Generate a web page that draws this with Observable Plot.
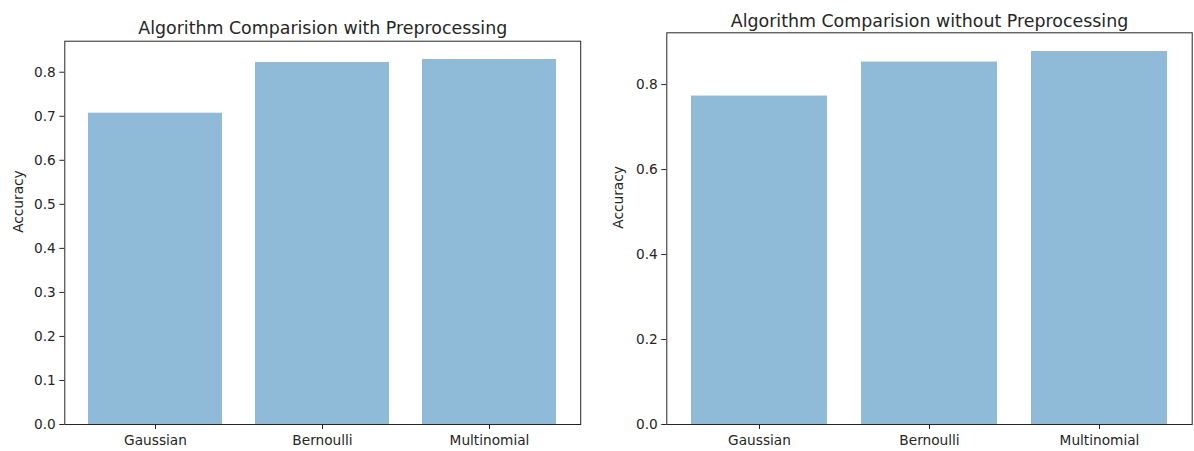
<!DOCTYPE html>
<html>
<head>
<meta charset="utf-8">
<script src="https://cdn.jsdelivr.net/npm/d3@7"></script>
<script src="https://cdn.jsdelivr.net/npm/@observablehq/plot@0.6"></script>
<style>
  html, body { margin: 0; padding: 0; background: #fff; }
  #wrap { position: relative; width: 1194px; height: 451px; overflow: hidden; }
  #wrap > div { position: absolute; top: 0; }
  svg { font-family: "DejaVu Sans", sans-serif; overflow: visible; }
</style>
</head>
<body>
<div id="wrap">
  <div id="left" style="left:0"></div>
  <div id="right" style="left:600px"></div>
</div>
<script>
// Naive Bayes variants and their test accuracy
const algorithms = ["Gaussian", "Bernoulli", "Multinomial"];
const accuracyWith = [0.707, 0.822, 0.829];
const accuracyWithout = [0.773, 0.853, 0.878];

const titles = [
  "Algorithm Comparision with Preprocessing",
  "Algorithm Comparision without Preprocessing"
];
const yTicksWith = [0, 0.1, 0.2, 0.3, 0.4, 0.5, 0.6, 0.7, 0.8];
const yTicksWithout = [0, 0.2, 0.4, 0.6, 0.8];

const barColor = "#8fbbd9";
const ink = "#262626";

function barPanel({values, title, ticks, width, margins}) {
  const rows = algorithms.map((name, i) => ({name, value: values[i]}));
  const yMax = d3.max(values) * 1.05;
  return Plot.plot({
    width,
    height: 451,
    marginLeft: margins.left,
    marginRight: margins.right,
    marginTop: margins.top,
    marginBottom: margins.bottom,
    style: {fontSize: "13.7px", fontFamily: "DejaVu Sans, sans-serif", color: ink, background: "transparent"},
    x: {domain: algorithms, paddingInner: 0.2, paddingOuter: 0.14, label: null},
    y: {domain: [0, yMax], label: null},
    marks: [
      Plot.barY(rows, {x: "name", y: "value", fill: barColor}),
      Plot.axisX({tickSize: 5, tickPadding: 5.5, label: null, fontSize: 13.7}),
      Plot.axisY({ticks, tickFormat: d3.format(".1f"), tickSize: 5, tickPadding: 4, label: null, fontSize: 13.7}),
      Plot.frame({stroke: ink, strokeWidth: 1}),
      Plot.text([title], {frameAnchor: "top", lineAnchor: "bottom", dy: -margins.titleGap, fontSize: 17.4, fill: ink}),
      Plot.text(["Accuracy"], {frameAnchor: "left", rotate: -90, dx: -margins.labelGap, fontSize: 13.7, fill: ink})
    ]
  });
}

document.getElementById("left").append(barPanel({
  values: accuracyWith,
  title: titles[0],
  ticks: yTicksWith,
  width: 600,
  margins: {left: 64.3, right: 19.8, top: 40.7, bottom: 27, titleGap: 7, labelGap: 46.3}
}));

document.getElementById("right").append(barPanel({
  values: accuracyWithout,
  title: titles[1],
  ticks: yTicksWithout,
  width: 594,
  margins: {left: 66.3, right: 2.3, top: 32.3, bottom: 27, titleGap: 6, labelGap: 48.3}
}));
</script>
</body>
</html>
